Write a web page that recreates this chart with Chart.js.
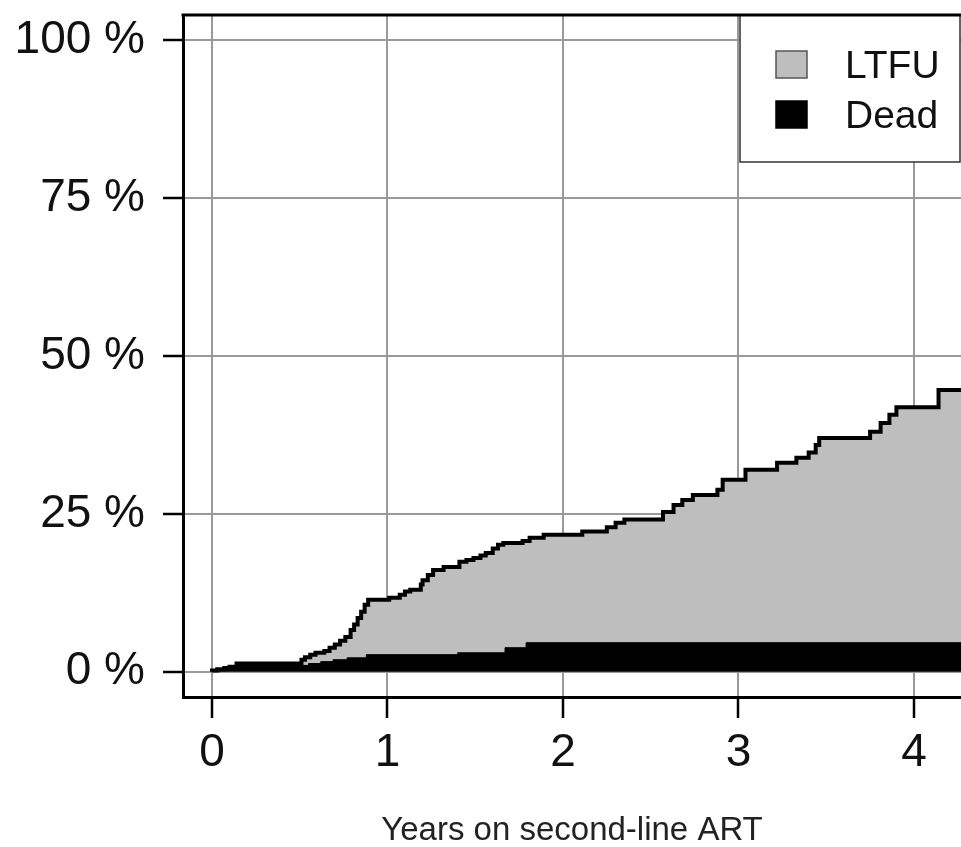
<!DOCTYPE html>
<html>
<head>
<meta charset="utf-8">
<script src="https://cdn.jsdelivr.net/npm/chart.js@4.4.0/dist/chart.umd.min.js"></script>
<style>
  html, body { margin: 0; padding: 0; background: #fff; }
  canvas { display: block; }
</style>
</head>
<body>
<canvas id="chart" width="961" height="847"></canvas>
<script>
// tick positions
const xTicks = [0, 1, 2, 3, 4];
const yTicks = [0, 25, 50, 75, 100];

// cumulative incidence of death (%), step function: value holds from each time on
const deadYears = [0, 0.03, 0.07, 0.10, 0.14, 0.55, 0.62, 0.69, 0.77, 0.88, 1.40, 1.67, 1.79, 3.31, 4.30];
const deadPct   = [0, 0.2, 0.4, 0.6, 0.8, 1.0, 1.3, 1.6, 1.9, 2.2, 2.7, 3.0, 3.8, 4.6, 4.6];

// cumulative death + loss to follow-up (%), top of the grey band
const lostYears = [0, 0.03, 0.07, 0.10, 0.14, 0.51, 0.53, 0.56, 0.59, 0.64, 0.67, 0.70, 0.73, 0.76, 0.79,
                   0.81, 0.83, 0.85, 0.87, 0.89, 1.01, 1.07, 1.10, 1.13, 1.19, 1.20, 1.23, 1.26, 1.32, 1.41,
                   1.45, 1.49, 1.53, 1.56, 1.60, 1.63, 1.66, 1.77, 1.81, 1.89, 2.11, 2.25, 2.30, 2.35, 2.57,
                   2.63, 2.68, 2.74, 2.88, 2.91, 3.04, 3.22, 3.33, 3.40, 3.44, 3.46, 3.75, 3.81, 3.86, 3.90,
                   4.14, 4.22, 4.30];
const lostPct   = [0, 0.2, 0.4, 0.6, 0.8, 1.3, 1.9, 2.3, 2.7, 3.0, 3.3, 3.8, 4.3, 4.9, 5.5,
                   6.6, 7.5, 8.5, 9.5, 10.6, 11.4, 11.7, 12.2, 12.7, 13.0, 13.8, 14.5, 15.3, 16.1, 16.6,
                   17.4, 17.7, 18.0, 18.4, 18.8, 19.5, 20.1, 20.4, 20.7, 21.2, 21.7, 22.2, 22.9, 23.6, 24.1,
                   25.3, 26.4, 27.2, 28.0, 28.8, 30.4, 32.0, 33.1, 33.9, 34.7, 35.9, 37.0, 38.0, 39.4, 40.7,
                   41.9, 44.6, 44.6];

const toPoints = (xs, ys) => xs.map((x, i) => ({ x: x, y: ys[i] }));

const FONT = "'Liberation Sans', Arial, sans-serif";

// legend inside the top-right corner, plus the top edge of the frame
const boxLegend = {
    id: 'boxLegend',
    afterDraw(chart) {
        const { ctx, chartArea } = chart;
        const w = 220, h = 147;
        const x0 = chartArea.right - w - 1;
        const y0 = chartArea.top;
        ctx.save();
        ctx.fillStyle = '#fff';
        ctx.fillRect(x0, y0, w, h);
        ctx.strokeStyle = '#333';
        ctx.lineWidth = 1.5;
        ctx.strokeRect(x0, y0, w, h);

        ctx.font = '39px ' + FONT;
        ctx.textBaseline = 'alphabetic';
        ctx.textAlign = 'left';
        chart.data.datasets.forEach((ds, i) => {
            const cy = y0 + 49 + i * 50;
            ctx.fillStyle = ds.backgroundColor;
            ctx.fillRect(x0 + 36, cy - 13, 31, 27);
            ctx.strokeStyle = i === 0 ? '#555' : '#000';
            ctx.lineWidth = 1.5;
            ctx.strokeRect(x0 + 36, cy - 13, 31, 27);
            ctx.fillStyle = '#111';
            ctx.fillText(ds.label, x0 + 105, cy + 14);
        });

        ctx.strokeStyle = '#000';
        ctx.lineWidth = 3;
        ctx.beginPath();
        ctx.moveTo(chartArea.left - 1.5, chartArea.top);
        ctx.lineTo(chartArea.right, chartArea.top);
        ctx.stroke();
        ctx.restore();
    }
};

const ctx = document.getElementById('chart').getContext('2d');
const chart = new Chart(ctx, {
    type: 'line',
    data: {
        datasets: [
            {
                label: 'LTFU',
                data: toPoints(lostYears, lostPct),
                stepped: 'after',
                fill: 'origin',
                backgroundColor: '#bebebe',
                borderColor: '#000',
                borderWidth: 4,
                pointRadius: 0,
                order: 2
            },
            {
                label: 'Dead',
                data: toPoints(deadYears, deadPct),
                stepped: 'after',
                fill: 'origin',
                backgroundColor: '#000',
                borderColor: '#000',
                borderWidth: 1,
                pointRadius: 0,
                order: 1
            }
        ]
    },
    options: {
        responsive: false,
        animation: false,
        devicePixelRatio: 1,
        layout: { padding: { top: 15, right: 0, left: 0, bottom: 0 } },
        plugins: {
            legend: { display: false },
            tooltip: { enabled: false }
        },
        scales: {
            x: {
                type: 'linear',
                min: -0.165,
                max: 4.268,
                z: 1,
                afterBuildTicks: (s) => { s.ticks = xTicks.map(v => ({ value: v })); },
                afterFit: (s) => {
                    s.height = 150;
                    s.paddingLeft = 0;
                    s.paddingRight = 0;
                },
                grid: {
                    color: '#9a9a9a',
                    lineWidth: 2,
                    drawTicks: true,
                    tickLength: 21,
                    tickColor: '#000',
                    tickWidth: 2.5
                },
                border: { display: true, color: '#000', width: 3 },
                ticks: {
                    padding: 8,
                    color: '#111',
                    font: { family: FONT, size: 46 },
                    maxRotation: 0,
                    autoSkip: false
                },
                title: {
                    display: true,
                    text: 'Years on second-line ART',
                    color: '#222',
                    font: { family: FONT, size: 33, lineHeight: 1 },
                    padding: { top: 0, bottom: 0 }
                }
            },
            y: {
                type: 'linear',
                min: -4,
                max: 104,
                z: 1,
                afterBuildTicks: (s) => { s.ticks = yTicks.map(v => ({ value: v })); },
                afterFit: (s) => {
                    s.width = 183;
                    s.paddingTop = 0;
                    s.paddingBottom = 0;
                },
                grid: {
                    color: '#9a9a9a',
                    lineWidth: 2,
                    drawTicks: true,
                    tickLength: 20,
                    tickColor: '#000',
                    tickWidth: 2.5
                },
                border: { display: true, color: '#000', width: 3 },
                ticks: {
                    padding: 18,
                    color: '#111',
                    font: { family: FONT, size: 46 },
                    callback: (v) => v + ' %'
                }
            }
        }
    },
    plugins: [boxLegend]
});
</script>
</body>
</html>
